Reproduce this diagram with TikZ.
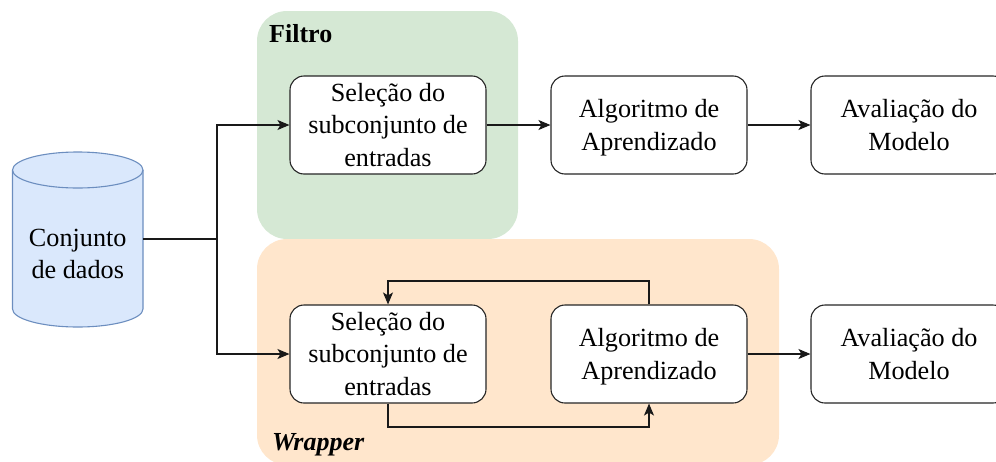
\documentclass[tikz,border=0pt]{standalone}
\usepackage{fontspec}
\setmainfont{Liberation Serif}
\usetikzlibrary{arrows.meta,calc}
\definecolor{greenbg}{HTML}{D5E8D4}
\definecolor{orangebg}{HTML}{FFE6CC}
\definecolor{dbfill}{HTML}{DAE8FC}
\definecolor{dbline}{HTML}{6C8EBF}
\tikzset{
  x=1pt,y=-1pt,
  panel/.style={rounded corners=30pt,draw=none},
  procbox/.style={draw=black!85,line width=1.1pt,fill=white,rounded corners=14pt,minimum width=196pt,minimum height=98pt,inner sep=0pt,align=center,font=\fontsize{26.2}{32.4}\selectfont},
  dbtext/.style={minimum width=130.5pt,inner sep=0pt,align=center,font=\fontsize{26.2}{32.4}\selectfont},
  title/.style={inner sep=0pt,anchor=west,font=\fontsize{26}{28}\selectfont\bfseries},
  conn/.style={line width=1.05pt,draw=black!90,-{Stealth[length=12pt,width=10pt,inset=3pt]}},
  plain/.style={line width=1.05pt,draw=black!90},
  dbshape/.style={draw=dbline,fill=dbfill,line width=1.1pt}
}
\begin{document}
\begin{tikzpicture}
\useasboundingbox (0,0) rectangle (996,461);
\clip (0,0) rectangle (996,461);
\fill[greenbg,panel] (257,11) rectangle (518,239);
\fill[orangebg,panel] (257,239) rectangle (779,465);
\draw[dbshape] (12.5,170) arc[x radius=65.25,y radius=18,start angle=180,end angle=360] -- (143,309) arc[x radius=65.25,y radius=18,start angle=0,end angle=180] -- cycle;
\draw[dbshape] (12.5,170) arc[x radius=65.25,y radius=18,start angle=180,end angle=0];
\node[dbtext] (db) at (77.75,254) {Conjunto\\de dados};
\node[procbox] (s1) at (388,125) {Seleção do\\subconjunto de\\entradas};
\node[procbox] (a1) at (649,125) {Algoritmo de\\\raisebox{0pt}[\height][0pt]{Aprendizado}};
\node[procbox] (m1) at (909,125) {Avaliação do\\Modelo};
\node[procbox] (s2) at (388,354) {Seleção do\\subconjunto de\\entradas};
\node[procbox] (a2) at (649,354) {Algoritmo de\\\raisebox{0pt}[\height][0pt]{Aprendizado}};
\node[procbox] (m2) at (909,354) {Avaliação do\\Modelo};
\node[title] (tf) at (269,34) {Filtro};
\node[title] (tw) at (272,445) {\itshape Wrapper};
\coordinate (split) at (217,239);
\coordinate (up) at (649,281);
\coordinate (upb) at (388,281);
\coordinate (lo) at (388,427);
\coordinate (lob) at (649,427);
\draw[plain] (db.east |- split) -- (split);
\draw[conn] (split) |- (s1.west);
\draw[conn] (split) |- (s2.west);
\draw[conn] (s1.east) -- (a1.west);
\draw[conn] (a1.east) -- (m1.west);
\draw[conn] (a2.east) -- (m2.west);
\draw[conn] (a2.north) -- (up) -- (upb) -- (s2.north);
\draw[conn] (s2.south) -- (lo) -- (lob) -- (a2.south);
\end{tikzpicture}
\end{document}
